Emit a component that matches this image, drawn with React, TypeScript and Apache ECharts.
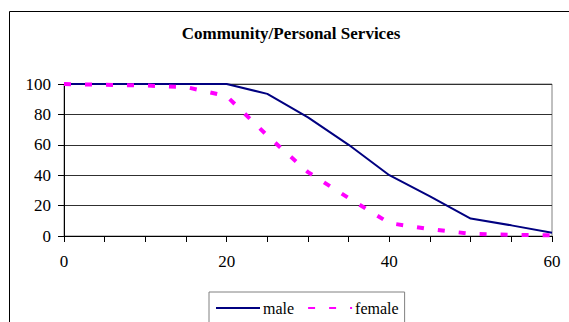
import React, { useEffect, useRef } from "react";
import * as echarts from "echarts";

// Share of workers (%) by years, per sex
const years = [0, 5, 10, 15, 20, 25, 30, 35, 40, 45, 50, 55, 60];
const male = [100, 100, 100, 100, 100, 93.5, 78, 60, 40, 26, 11.5, 7, 2.2];
const female = [100, 99.5, 99, 98, 92, 66, 42, 25, 8.5, 4.5, 1.5, 0.8, 0.5];
const yTicks = [0, 20, 40, 60, 80, 100];
const titleText = "Community/Personal Services";

const serif = "Liberation Serif";

export default function App() {
  const ref = useRef<HTMLDivElement>(null);

  useEffect(() => {
    if (!ref.current) return;
    const chart = echarts.init(ref.current, undefined, { renderer: "svg" });
    const pairs = (vals: number[]) => years.map((x, i) => [x, vals[i]]);
    chart.setOption({
      animation: false,
      backgroundColor: "#ffffff",
      textStyle: { fontFamily: serif },
      graphic: [
        {
          type: "rect",
          shape: { x: 9.5, y: 11.5, width: 800, height: 600 },
          style: { fill: "none", stroke: "#000000", lineWidth: 1 },
          z: -1,
        },
        {
          type: "text",
          x: 291,
          y: 33,
          style: {
            text: titleText,
            fontFamily: serif,
            fontWeight: "bold",
            fontSize: 17,
            fill: "#000000",
            textAlign: "center",
            textVerticalAlign: "middle",
          },
        },
      ],
      grid: {
        left: 64,
        right: 17,
        top: 84,
        bottom: 86,
        show: true,
        borderColor: "#808080",
        borderWidth: 1,
        backgroundColor: "transparent",
      },
      legend: {
        left: 209,
        top: 292,
        orient: "horizontal",
        itemStyle: { opacity: 0 },
        borderColor: "#808080",
        borderWidth: 1,
        padding: [8, 6, 20, 6],
        itemWidth: 44,
        itemHeight: 4,
        itemGap: 13,
        textStyle: { fontFamily: serif, fontSize: 16, color: "#000000", padding: [0, 0, 0, -2] },
        data: ["male", "female"],
      },
      xAxis: {
        type: "value",
        min: 0,
        max: 60,
        interval: 5,
        axisLine: { show: true, lineStyle: { color: "#000000", width: 1 } },
        axisTick: { show: true, length: 6, lineStyle: { color: "#000000" } },
        axisLabel: {
          margin: 17,
          fontFamily: serif,
          fontSize: 17,
          color: "#000000",
          formatter: (v: number) => (v % 20 === 0 ? String(v) : ""),
        },
        splitLine: { show: false },
      },
      yAxis: {
        type: "value",
        min: yTicks[0],
        max: yTicks[yTicks.length - 1],
        interval: 20,
        axisLine: { show: true, lineStyle: { color: "#000000", width: 1 } },
        axisTick: { show: true, length: 6, lineStyle: { color: "#000000" } },
        axisLabel: {
          margin: 13,
          fontFamily: serif,
          fontSize: 17,
          color: "#000000",
        },
        splitLine: { show: true, lineStyle: { color: "#303030", width: 1 } },
      },
      series: [
        {
          name: "male",
          type: "line",
          data: pairs(male),
          symbol: "none",
          lineStyle: { color: "#000080", width: 2 },
          itemStyle: { color: "#000080" },
        },
        {
          name: "female",
          type: "line",
          data: pairs(female),
          symbol: "none",
          lineStyle: { color: "#ff00ff", width: 4, type: [7, 14] },
          itemStyle: { color: "#ff00ff" },
        },
      ],
    });
    return () => chart.dispose();
  }, []);

  return (
    <div
      ref={ref}
      style={{ position: "absolute", left: 0, top: 0, width: 569, height: 322 }}
    />
  );
}
